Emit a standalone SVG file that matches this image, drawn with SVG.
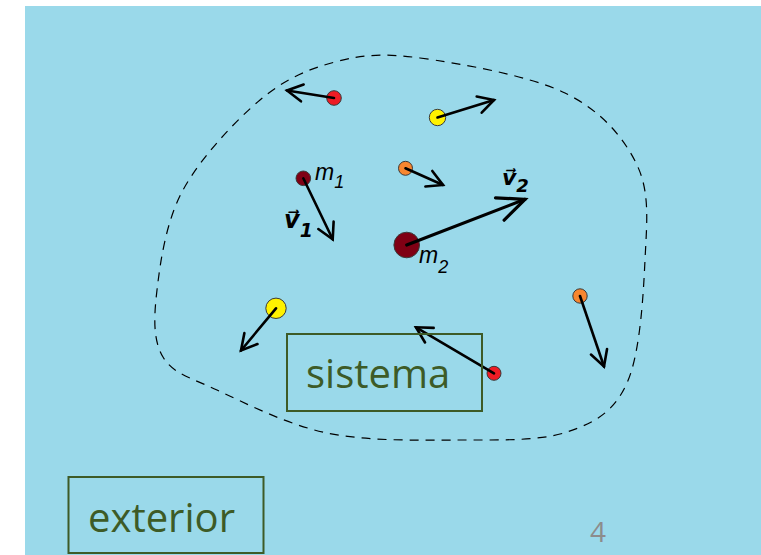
<svg xmlns="http://www.w3.org/2000/svg" width="761" height="555" viewBox="0 0 761 555">
  <style>
    .bg { fill: #9ad9ea; }
    .boundary { fill: none; stroke: #000; stroke-width: 1.2; stroke-dasharray: 9 7; }
    .p { stroke: #3a3a3a; stroke-width: 1; }
    .red { fill: #ee1c25; }
    .yellow { fill: #fff200; }
    .orange { fill: #f7862f; }
    .dark { fill: #7f0014; }
    .vel { fill: none; stroke: #000; stroke-width: 2.6; stroke-linecap: round; marker-end: url(#head); }
    .vel.big { stroke-width: 3.2; marker-end: url(#headL); }
    .lbl { font-family: "Liberation Sans", Arial, sans-serif; font-style: italic; fill: #000; }
    .vec { font-family: "DejaVu Sans", "Liberation Sans", sans-serif; font-style: italic; font-weight: bold; fill: #000; }
    .box { fill: none; stroke: #3d5b27; stroke-width: 2; }
    .name { font-family: "Open Sans", "Liberation Sans", sans-serif; font-size: 40px; fill: #3d5b27; }
    .page { font-family: "Open Sans", "Liberation Sans", sans-serif; font-size: 28px; fill: #8c8c8c; }
  </style>
  <defs>
    <marker id="head" markerUnits="userSpaceOnUse" orient="auto" overflow="visible" markerWidth="1" markerHeight="1">
      <path d="M -15.5 -8.5 L 0 0 L -15.5 8.5" fill="none" stroke="#000" stroke-width="2.6" stroke-linecap="round" stroke-linejoin="miter"/>
    </marker>
    <marker id="headL" markerUnits="userSpaceOnUse" orient="auto" overflow="visible" markerWidth="1" markerHeight="1">
      <path d="M -27 -12 L 0 0 L -27 12" fill="none" stroke="#000" stroke-width="3.2" stroke-linecap="round" stroke-linejoin="miter"/>
    </marker>
  </defs>

  <!-- slide background -->
  <rect class="bg" x="25" y="6" width="736" height="549"/>

  <!-- system boundary -->
  <path id="boundary" class="boundary" d="M 420 58 C 458.3 63.2 528.8 75.2 565 93 C 601.2 110.8 623.7 137.2 637 165 C 650.3 192.8 646.7 223.7 645 260 C 643.3 296.3 640 354.3 627 383 C 614 411.7 595.3 422.5 567 432 C 538.7 441.5 497 439.8 457 440 C 417 440.2 367 441.3 327 433 C 287 424.7 244.3 402.7 217 390 C 189.7 377.3 173 373.7 163 357 C 153 340.3 153.7 317.8 157 290 C 160.3 262.2 165.8 221.7 183 190 C 200.2 158.3 234.7 121.3 260 100 C 285.3 78.7 308.3 69 335 62 C 361.7 55 381.7 52.8 420 58 Z"/>

  <!-- particles -->
  <g id="p-red-top"><circle class="p red" cx="334" cy="98" r="7.3"/></g>
  <g id="p-yellow-top"><circle class="p yellow" cx="437.5" cy="117.5" r="8.2"/></g>
  <g id="p-orange-mid"><circle class="p orange" cx="405.5" cy="168.3" r="7"/></g>
  <g id="m1">
    <circle class="p dark" cx="303.3" cy="178.3" r="7.3"/>
    <text class="lbl" x="315" y="180" font-size="23">m<tspan font-size="18" dy="8">1</tspan></text>
  </g>
  <g id="m2">
    <circle class="p dark" cx="406.7" cy="245" r="12.8"/>
    <text class="lbl" x="419" y="263" font-size="23">m<tspan font-size="18" dy="10">2</tspan></text>
  </g>
  <g id="p-yellow-low"><circle class="p yellow" cx="276" cy="308.3" r="10.2"/></g>
  <g id="p-red-low"><circle class="p red" cx="494" cy="373.3" r="7"/></g>
  <g id="p-orange-right"><circle class="p orange" cx="580" cy="296" r="7.2"/></g>

  <!-- velocity vectors -->
  <g id="velocities">
    <line class="vel" x1="334" y1="98" x2="287" y2="90.5"/>
    <line class="vel" x1="437.5" y1="117.5" x2="494" y2="100"/>
    <line class="vel" x1="405.5" y1="168.3" x2="443" y2="185"/>
    <line class="vel" x1="303.3" y1="178.3" x2="332.7" y2="239.3"/>
    <line class="vel big" x1="406.7" y1="245" x2="525" y2="199.3"/>
    <line class="vel" x1="276" y1="308.3" x2="241" y2="350.5"/>
    <line class="vel" x1="494" y1="373.3" x2="416" y2="327.3"/>
    <line class="vel" x1="580" y1="296" x2="604" y2="366.5"/>
  </g>

  <!-- vector labels (v with combining arrow above) -->
  <g id="v1-label">
    <text class="vec" x="284" y="228" font-size="24">v&#x20D7;<tspan font-size="19" dy="9">1</tspan></text>
  </g>
  <g id="v2-label">
    <text class="vec" x="502" y="185" font-size="22">v&#x20D7;<tspan font-size="18" dy="7">2</tspan></text>
  </g>

  <!-- region names -->
  <g id="sistema">
    <rect class="box" x="287" y="334" width="195" height="77"/>
    <text class="name" x="306" y="388">sistema</text>
  </g>
  <g id="exterior">
    <rect class="box" x="68.5" y="477" width="195" height="76"/>
    <text class="name" x="88" y="532">exterior</text>
  </g>

  <!-- slide number -->
  <text class="page" x="590" y="542">4</text>
</svg>
